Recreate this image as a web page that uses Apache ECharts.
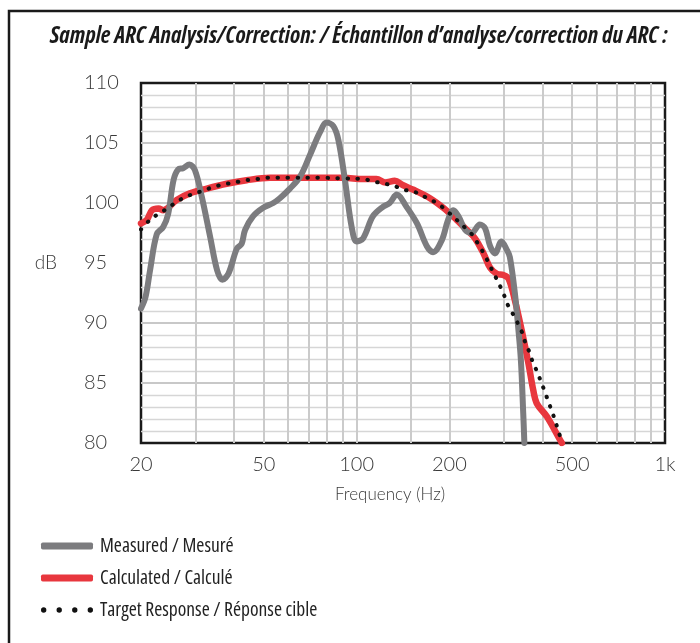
<!DOCTYPE html>
<html>
<head>
<meta charset="utf-8">
<script src="https://cdn.jsdelivr.net/npm/echarts@6/dist/echarts.min.js"></script>
<style>
  html, body { margin: 0; padding: 0; background: #fff; }
  #chart { width: 700px; height: 643px; }
</style>
</head>
<body>
<div id="chart"></div>
<script>
  // values, frequency in Hz / level in dB
  const measuredFreq = [20, 20.7, 21.4, 22.5, 23.6, 24.5, 25.5, 26.4, 27.4, 28.7, 29.9, 31.5, 33.5, 35.3, 36.7, 38.4, 40.9, 42.4, 43.5, 46.2, 49.8, 53.7, 56.4, 60.8, 65.6, 70.6, 76.1, 80, 84.1, 87.3, 91.7, 96.4, 100, 105, 113, 122, 128, 135, 145, 157, 169, 177, 189, 198, 206, 214, 225, 236, 251, 261, 271, 281, 295, 307, 314, 326, 334, 341, 347, 350]
  const measuredDb = [91.2, 92.2, 94.4, 97.4, 98.0, 99.1, 101.9, 102.8, 102.9, 103.2, 102.75, 100.5, 97.2, 94.4, 93.6, 94.1, 96.2, 96.6, 97.75, 98.9, 99.6, 100.0, 100.4, 101.2, 102.2, 104.0, 105.9, 106.7, 106.4, 105.25, 101.9, 98.0, 96.8, 97.06, 98.9, 99.7, 100.0, 100.7, 99.7, 98.3, 96.4, 95.9, 96.9, 98.6, 99.4, 98.9, 97.75, 97.5, 98.2, 97.9, 96.4, 95.8, 96.8, 96.1, 95.5, 92.5, 89.7, 86.9, 82.5, 80.0]

  const calculatedFreq = [20, 20.9, 21.7, 22.8, 23.6, 26.1, 28.8, 32.7, 37.9, 44, 52.4, 60.8, 74.2, 90.6, 105, 116, 124, 133, 141, 153, 173, 191, 211, 228, 242, 258, 271, 285, 299, 311, 326, 343, 361, 374, 384, 414, 457, 463]
  const calculatedDb = [98.3, 98.6, 99.4, 99.55, 99.4, 100.25, 100.8, 101.2, 101.6, 101.9, 102.1, 102.1, 102.1, 102.1, 102.0, 102.0, 101.7, 101.85, 101.5, 101.1, 100.4, 99.6, 98.6, 97.75, 97.06, 95.8, 94.6, 94.1, 94.0, 93.7, 91.9, 89.4, 86.6, 84.4, 83.3, 82.2, 80.25, 80]

  const targetFreq = [20, 21.4, 22.8, 24.2, 25.8, 27.8, 30, 32.3, 35, 37.9, 40.9, 44, 48, 51.5, 60, 77, 90.6, 105, 113, 124, 133, 143, 155, 167, 179, 191, 230, 239, 250, 260, 269, 279, 289, 299, 308, 319, 343, 352, 363, 372, 384, 395, 406, 418, 429, 440, 451, 462, 465]
  const targetDb = [97.8, 98.6, 99.1, 99.5, 100.0, 100.5, 100.8, 101.1, 101.4, 101.6, 101.75, 101.9, 102.0, 102.1, 102.1, 102.1, 102.05, 102.0, 101.8, 101.6, 101.4, 101.1, 100.9, 100.5, 100.1, 99.6, 97.7, 97.25, 96.4, 95.7, 94.9, 94.1, 93.3, 92.5, 91.6, 90.9, 89.3, 88.4, 87.6, 86.8, 86.0, 85.2, 84.4, 83.5, 82.7, 81.9, 81.0, 80.2, 80]

  const freqLabels = [20, 50, 100, 200, 500, 1000]
  const freqGrid = [20, 30, 40, 50, 60, 70, 80, 90, 100, 150, 200, 300, 400, 500, 600, 700, 800, 900, 1000]

  const seriesNames = ['Measured / Mesuré', 'Calculated / Calculé', 'Target Response / Réponse cible']

  const zip = (xs, ys) => xs.map((x, i) => [x, ys[i]])

  const dotsIcon = 'path://M0,2.5a2.5,2.5 0 1,0 5,0a2.5,2.5 0 1,0 -5,0' +
    'M14.5,2.5a2.5,2.5 0 1,0 5,0a2.5,2.5 0 1,0 -5,0' +
    'M29,2.5a2.5,2.5 0 1,0 5,0a2.5,2.5 0 1,0 -5,0' +
    'M43.5,2.5a2.5,2.5 0 1,0 5,0a2.5,2.5 0 1,0 -5,0'

  // condensed faces, stretch keyword goes into the canvas font string
  const narrow = '"Open Sans", "DejaVu Sans", sans-serif'
  const light = 'Lato, "Open Sans", sans-serif'

  const chart = echarts.init(document.getElementById('chart'))
  chart.setOption({
    animation: false,
    backgroundColor: '#fff',
    title: {
      text: 'Sample ARC Analysis/Correction: / Échantillon d’analyse/correction du ARC :',
      left: 45,
      top: 20,
      textStyle: {
        fontFamily: narrow,
        fontStyle: 'italic',
        fontWeight: 'bold condensed',
        fontSize: 23,
        color: '#1a1a1a'
      }
    },
    graphic: [{
      type: 'polyline',
      shape: { points: [[9, 643], [9, 11], [700, 11]] },
      style: { stroke: '#1a1a1a', lineWidth: 2.5, fill: null }
    }],
    legend: {
      orient: 'vertical',
      left: 36,
      top: 531,
      itemWidth: 52,
      itemHeight: 7,
      itemGap: 12,
      selectedMode: false,
      itemStyle: { borderWidth: 0 },
      textStyle: { fontFamily: narrow, fontWeight: 'normal condensed', fontSize: 19.5, color: '#222', padding: [0, 0, 0, 2] },
      data: [
        { name: seriesNames[0], icon: 'roundRect' },
        { name: seriesNames[1], icon: 'roundRect' },
        { name: seriesNames[2], icon: dotsIcon }
      ]
    },
    grid: {
      left: 141,
      top: 83,
      width: 524,
      height: 360,
      show: true,
      borderColor: '#1a1a1a',
      borderWidth: 2.5,
      backgroundColor: 'transparent'
    },
    xAxis: {
      type: 'log',
      logBase: 10,
      min: 20,
      max: 1000,
      name: 'Frequency (Hz)',
      nameLocation: 'middle',
      nameGap: 43,
      nameTextStyle: { fontFamily: light, fontWeight: 300, fontSize: 17, color: '#3a3a3a', padding: [0, 26, 0, 0] },
      axisLine: { show: false },
      axisTick: { show: false, customValues: freqGrid },
      axisLabel: {
        customValues: freqLabels,
        margin: 12,
        fontFamily: light,
        fontWeight: 300,
        fontSize: 20,
        color: '#3a3a3a',
        formatter: v => (v >= 1000 ? (v / 1000) + 'k' : String(v))
      },
      splitLine: {
        show: true,
        showMinLine: false,
        showMaxLine: false,
        lineStyle: { color: '#cbcbcb', width: 2 }
      }
    },
    yAxis: {
      type: 'value',
      min: 80,
      max: 110,
      interval: 5,
      name: 'dB',
      nameLocation: 'middle',
      nameRotate: 0,
      nameGap: 84,
      nameTextStyle: { fontFamily: light, fontWeight: 300, fontSize: 19, color: '#3a3a3a' },
      axisLine: { show: false },
      axisTick: { show: false },
      minorTick: { show: false, splitNumber: 5 },
      axisLabel: {
        align: 'left',
        margin: 57,
        fontFamily: light,
        fontWeight: 300,
        fontSize: 20,
        color: '#3a3a3a'
      },
      splitLine: {
        show: true,
        showMinLine: false,
        showMaxLine: false,
        lineStyle: { color: '#c8c8c8', width: 2 }
      },
      minorSplitLine: {
        show: true,
        lineStyle: { color: '#d6d6d6', width: 1.3 }
      }
    },
    series: [
      {
        name: seriesNames[0],
        type: 'line',
        z: 3,
        smooth: 0.35,
        showSymbol: false,
        color: '#7c7c7f',
        lineStyle: { color: '#7c7c7f', width: 6, cap: 'round', join: 'round' },
        data: zip(measuredFreq, measuredDb)
      },
      {
        name: seriesNames[1],
        type: 'line',
        z: 2,
        smooth: 0.35,
        showSymbol: false,
        color: '#e8373e',
        lineStyle: { color: '#e8373e', width: 6.5, cap: 'round', join: 'round' },
        data: zip(calculatedFreq, calculatedDb)
      },
      {
        name: seriesNames[2],
        type: 'line',
        z: 4,
        smooth: 0.35,
        showSymbol: false,
        color: '#111',
        lineStyle: { color: '#111', width: 4, type: [0.5, 9.5], cap: 'round' },
        data: zip(targetFreq, targetDb)
      }
    ]
  })
</script>
</body>
</html>
